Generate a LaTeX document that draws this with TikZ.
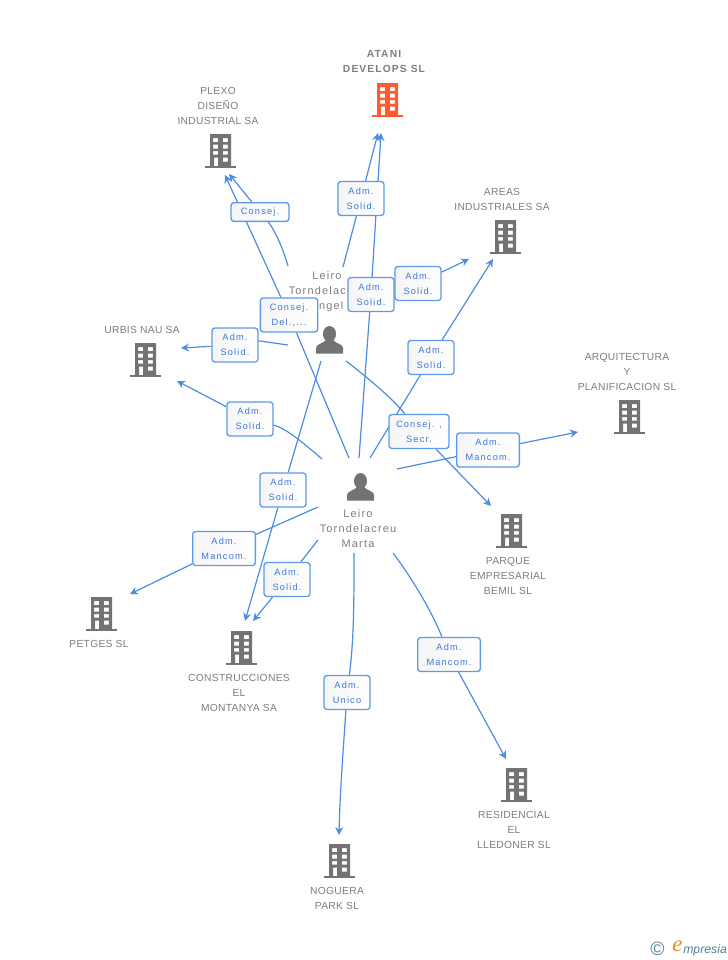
\documentclass[tikz,border=0pt]{standalone}
\usepackage{fontspec}
\setmainfont{Liberation Sans}
\newfontfamily\entfont[LetterSpace=3]{Liberation Sans}
\newfontfamily\topfont[LetterSpace=11]{Liberation Sans}
\newfontfamily\persfont[LetterSpace=11]{Liberation Sans}
\newfontfamily\boxfont[LetterSpace=13]{Liberation Sans}
\newfontfamily\logofont{Liberation Sans}
\newfontfamily\logoefont{Liberation Serif}
\usetikzlibrary{arrows.meta}
\pgfdeclarelayer{edges}
\pgfsetlayers{edges,main}
\definecolor{lnk}{HTML}{4C8CE4}
\definecolor{lnkb}{HTML}{5E9AEA}
\definecolor{boxt}{HTML}{3A78DC}
\definecolor{ent}{HTML}{7D7D7D}
\definecolor{ico}{HTML}{737373}
\definecolor{hot}{HTML}{FF5B2E}
\definecolor{logob}{HTML}{4F8299}
\definecolor{logoo}{HTML}{F08A1D}
\newcommand{\lowr}[1]{\raisebox{-0.7pt}{#1}}
\newcommand{\twol}[2]{\lowr{#1}\\\lowr{#2}}
\tikzset{
  x=0.75pt,y=-0.75pt,
  plainconn/.style={draw=lnk,line width=0.9pt},
  conn/.style={plainconn,-{Stealth[length=6pt,width=6pt,inset=2pt]}},
  rel/.style={draw=lnkb,line width=1pt,rounded corners=2.2pt,
    left color=black!4,right color=white,minimum height=25.5pt,inner sep=0pt,align=center,
    font=\boxfont\fontsize{6.9}{11.25}\selectfont,text=boxt},
  entity/.style={inner sep=0pt,align=center,font=\entfont\fontsize{7.7}{11.25}\selectfont,text=ent},
  toptext/.style={inner sep=0pt,align=center,font=\topfont\bfseries\fontsize{7.7}{11.25}\selectfont,text=ent},
  perstext/.style={inner sep=0pt,align=center,font=\persfont\fontsize{8.2}{11.25}\selectfont,text=ent},
  bld/.style={minimum width=24pt,minimum height=27pt,inner sep=0pt,path picture={
    \begin{scope}[shift={(path picture bounding box.center)}]
      \fill[#1,even odd rule]
        (-10.5,-17) rectangle (10.5,15)
        (-7.5,-13) rectangle (-2.5,-9)
        (2.3,-13) rectangle (7.3,-9)
        (-7.5,-6.5) rectangle (-2.5,-2.5)
        (2.3,-6.5) rectangle (7.3,-2.5)
        (-7.5,0) rectangle (-2.5,3.5)
        (2.3,0) rectangle (7.3,3.5)
        (-6.5,6.5) rectangle (-2.5,15)
        (2.3,6.5) rectangle (7.3,10.5);
      \fill[#1] (-15.5,15) rectangle (15.5,17);
    \end{scope}}},
  person/.style={minimum width=21pt,minimum height=21pt,inner sep=0pt,path picture={
    \begin{scope}[shift={(path picture bounding box.center)}]
      \fill[ico] (0,-6) ellipse (6.5 and 8);
      \fill[ico] (-13.5,13.5) -- (-13.5,8) .. controls (-13.5,4) and (-6,3.5) .. (-3.5,0)
        -- (3.5,0) .. controls (6,3.5) and (13.5,4) .. (13.5,8) -- (13.5,13.5) -- cycle;
    \end{scope}}}
}
\begin{document}
\begin{tikzpicture}
\useasboundingbox (0,0) rectangle (728,960);
% buildings
\node[bld=hot] (atani) at (387.5,100) {};
\node[bld=ico] (plexo) at (220.5,151) {};
\node[bld=ico] (areas) at (505.5,237) {};
\node[bld=ico] (urbis) at (145.5,360) {};
\node[bld=ico] (arqui) at (629.5,417) {};
\node[bld=ico] (parque) at (511.5,531) {};
\node[bld=ico] (petges) at (101.5,614) {};
\node[bld=ico] (constr) at (241.5,648) {};
\node[bld=ico] (resid) at (516.5,785) {};
\node[bld=ico] (noguera) at (339.5,861) {};
% people
\node[person] (angel) at (329.5,340) {};
\node[person] (marta) at (360.5,487) {};
% entity texts
\node[toptext] (tatani) at (384,61.5) {ATANI\\DEVELOPS SL};
\node[entity] (tplexo) at (218,105.5) {PLEXO\\DISEÑO\\INDUSTRIAL SA};
\node[entity] (tareas) at (502,199) {AREAS\\INDUSTRIALES SA};
\node[entity] (turbis) at (142,329.5) {URBIS NAU SA};
\node[entity] (tarqui) at (627,371.5) {ARQUITECTURA\\Y\\PLANIFICACION SL};
\node[entity] (tparque) at (508,575.5) {PARQUE\\EMPRESARIAL\\BEMIL  SL};
\node[entity] (tpetges) at (99,643.5) {PETGES SL};
\node[entity] (tconstr) at (239,692.5) {CONSTRUCCIONES\\EL\\MONTANYA SA};
\node[entity] (tresid) at (514,829.5) {RESIDENCIAL\\EL\\LLEDONER SL};
\node[entity] (tnoguera) at (337,898) {NOGUERA\\PARK SL};
\node[perstext] (tangel) at (327,292) {Leiro\\Torndelacreu\\Angel};
\node[perstext] (tmarta) at (358,529) {Leiro\\Torndelacreu\\Marta};
% relation labels
\node[rel,minimum width=34.5pt] (l1) at (361,198.5) {\twol{Adm.}{Solid.}};
\node[rel,minimum width=34.5pt] (l2) at (371,294.5) {\twol{Adm.}{Solid.}};
\node[rel,minimum width=43.5pt,minimum height=14pt] (l3) at (260,212) {Consej.};
\node[rel,minimum width=43pt] (l4) at (289,315) {\twol{Consej.}{Del.,...}};
\node[rel,minimum width=34.5pt] (l5) at (235,345) {\twol{Adm.}{Solid.}};
\node[rel,minimum width=34.5pt] (l6) at (250,419) {\twol{Adm.}{Solid.}};
\node[rel,minimum width=34.5pt] (l7) at (283,490) {\twol{Adm.}{Solid.}};
\node[rel,minimum width=34.5pt] (l8) at (287,579.5) {\twol{Adm.}{Solid.}};
\node[rel,minimum width=47pt] (l9) at (224,548.5) {\twol{Adm.}{Mancom.}};
\node[rel,minimum width=34.5pt] (l10) at (347,692.5) {\twol{Adm.}{Unico}};
\node[rel,minimum width=47pt] (l11) at (449,654.5) {\twol{Adm.}{Mancom.}};
\node[rel,minimum width=47pt] (l12) at (488,450) {\twol{Adm.}{Mancom.}};
\node[rel,minimum width=45pt] (l13) at (419,431.5) {\twol{Consej. ,}{Secr.}};
\node[rel,minimum width=34.5pt] (l14) at (431,357.5) {\twol{Adm.}{Solid.}};
\node[rel,minimum width=34.5pt] (l15) at (418,283.5) {\twol{Adm.}{Solid.}};
% connector ends
\coordinate (a1) at (343,267);   \coordinate (b1) at (378,133);
\coordinate (a2) at (359,458);   \coordinate (b2) at (381,133);
\coordinate (a3) at (288,266);   \coordinate (b3) at (229,174);
\coordinate (a4) at (349,458);   \coordinate (b4) at (225,175);
\coordinate (a5) at (288,345);   \coordinate (b5) at (181,348);
\coordinate (a6) at (322,459);   \coordinate (b6) at (177,381);
\coordinate (a7) at (321,361);   \coordinate (b7) at (245,621);
\coordinate (a8) at (318,540);   \coordinate (b8) at (253,621);
\coordinate (a9) at (318,507);   \coordinate (b9) at (130,594);
\coordinate (a10) at (354,553);  \coordinate (b10) at (339,835);
\coordinate (a11) at (393,553);  \coordinate (b11) at (506,759);
\coordinate (a12) at (397,469);  \coordinate (b12) at (578,432);
\coordinate (a13) at (346,361);  \coordinate (b13) at (491,506);
\coordinate (a14) at (370,458);  \coordinate (b14) at (493,259);
\coordinate (a15) at (367,309);  \coordinate (b15) at (469,259);
\begin{pgfonlayer}{edges}
\draw[conn] (a1) -- (l1) -- (b1);
\draw[conn] (a2) -- (l2) -- (b2);
\draw[conn] (a3) .. controls (280,238) and (270,224) .. (l3) -- (b3);
\draw[conn] (a4) -- (l4) -- (b4);
\draw[plainconn] (a5) -- (l5.10);
\draw[conn] (l5) -- (b5);
\draw[conn] (a6) .. controls (300,440) and (285,428) .. (l6) -- (b6);
\draw[conn] (a7) -- (l7) -- (b7);
\draw[conn] (a8) -- (l8) -- (b8);
\draw[conn] (a9) -- (l9) -- (b9);
\draw[conn] (a10) .. controls (354,600) and (354,640) .. (l10) .. controls (344,740) and (340,790) .. (b10);
\draw[conn] (a11) .. controls (412,578) and (432,612) .. (l11) -- (b11);
\draw[conn] (a12) -- (l12) -- (b12);
\draw[conn] (a13) .. controls (368,378) and (392,398) .. (l13) -- (b13);
\draw[conn] (a14) -- (l14) -- (b14);
\draw[conn] (a15) -- (l15) -- (b15);
\end{pgfonlayer}
% logo
\node[inner sep=0pt,text=logob,font=\logofont\fontsize{14.5}{15}\selectfont] (lc) at (657.5,949) {©};
\node[inner sep=0pt,text=logoo,font=\logoefont\itshape\fontsize{17}{17}\selectfont] (le) at (677.5,946) {e};
\node[inner sep=0pt,anchor=west,text=logob,font=\logofont\itshape\fontsize{9.2}{10}\selectfont] (lm) at (683,950) {mpresia};
\end{tikzpicture}
\end{document}
